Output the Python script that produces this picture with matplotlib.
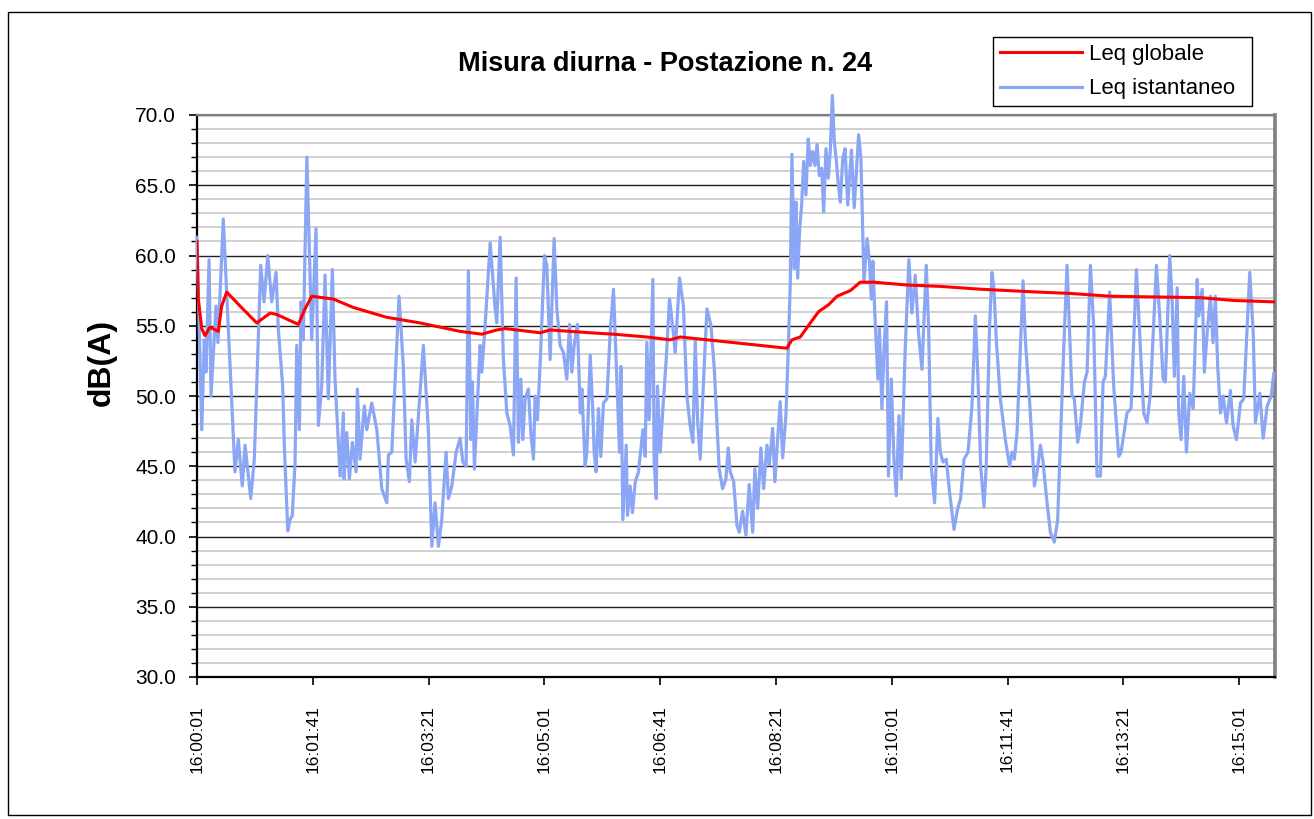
import numpy as np
import matplotlib
matplotlib.use("Agg")
import matplotlib.pyplot as plt
import matplotlib.transforms as mtransforms
from matplotlib.patches import Rectangle

plt.rcParams['font.family'] = ['Liberation Sans', 'DejaVu Sans']

# Leq istantaneo: seconds from 16:00:01 and dB(A)
t_ist = [0, 4.1, 6.3, 7.8, 10.4, 12.1, 16.4, 18.1, 22.7, 29.1, 32.8, 35.7, 39.1, 41.5, 43.5, 46.4,
         49.5, 55.0, 57.9, 61.1, 64.5, 68.3, 70.2, 74.0, 75.4, 78.4, 80.4, 82.3, 84.7, 86.1, 88.4,
         89.9, 91.8, 94.9, 99.1, 102.8, 104.8, 107.7, 110.6, 113.4, 116.9, 119.2, 123.6, 126.4,
         127.0, 129.3, 131.6, 134.2, 137.4, 138.5, 140.8, 144.5, 146.6, 150.9, 155.3, 159.6, 163.9,
         165.3, 168.2, 174.5, 178.2, 180.6, 183.4, 185.5, 188.4, 195.5, 199.8, 202.8, 205.6, 208.5,
         211.4, 215.1, 217.1, 220.1, 223.8, 227.2, 229.6, 232.4, 234.4, 236.5, 237.9, 239.6, 244.5,
         246.0, 248.8, 253.2, 257.5, 258.9, 261.8, 264.6, 267.6, 270.4, 273.3, 275.6, 277.6, 279.7,
         281.4, 283.4, 286.2, 288.3, 290.6, 292.0, 294.0, 296.4, 300.1, 302.1, 305.0, 308.4, 310.8,
         313.6, 316.5, 319.4, 321.7, 323.7, 325.7, 328.6, 331.0, 332.4, 335.2, 336.7, 339.6, 341.9,
         343.0, 344.7, 346.7, 348.8, 351.0, 354.0, 356.8, 359.7, 362.6, 364.9, 366.1, 367.8, 370.7,
         371.8, 374.1, 376.1, 378.5, 381.3, 385.1, 387.1, 388.5, 390.5, 393.7, 394.8, 396.6, 397.7,
         400.0, 402.9, 405.2, 408.1, 411.0, 413.0, 416.7, 420.1, 423.1, 425.9, 428.3, 430.3, 432.3,
         434.6, 437.5, 440.4, 443.9, 446.7, 451.0, 453.9, 456.8, 458.8, 460.5, 463.5, 466.3, 468.3,
         471.2, 474.1, 476.9, 479.9, 481.8, 484.2, 487.0, 489.4, 492.2, 494.2, 497.2, 499.1, 501.5,
         503.7, 505.8, 508.6, 510.6, 512.4, 513.8, 515.8, 517.3, 518.7, 520.5, 522.2, 523.9, 525.9,
         527.9, 529.7, 531.7, 533.7, 535.5, 537.4, 539.5, 541.2, 543.2, 545.2, 546.9, 548.7, 550.4,
         552.2, 553.9, 555.6, 557.7, 559.7, 562.0, 565.2, 567.6, 571.4, 573.4, 576.0, 578.8, 580.8,
         582.3, 583.7, 585.1, 588.0, 589.4, 591.5, 593.2, 595.5, 597.2, 599.6, 601.9, 603.9, 606.2,
         608.2, 611.6, 614.8, 617.4, 620.3, 623.1, 626.1, 629.8, 631.8, 634.1, 637.0, 639.9, 641.9,
         644.3, 647.1, 650.0, 653.8, 656.7, 659.5, 662.4, 665.9, 669.3, 672.2, 674.5, 676.8, 679.7,
         681.6, 684.5, 686.6, 688.3, 690.3, 693.8, 698.1, 701.8, 703.9, 705.9, 708.2, 713.4, 715.4,
         719.7, 723.2, 725.5, 728.4, 730.7, 733.5, 737.0, 740.4, 743.3, 748.5, 751.4, 755.7, 757.7,
         760.6, 762.9, 766.4, 768.7, 771.6, 774.4, 777.3, 780.2, 782.5, 784.5, 788.2, 791.7, 796.0,
         798.0, 800.3, 803.2, 806.7, 811.3, 814.1, 817.6, 820.5, 823.4, 828.6, 831.4, 834.4, 836.3,
         840.1, 842.1, 844.1, 846.5, 847.8, 849.9, 852.2, 854.5, 857.4, 860.3, 863.8, 865.1, 868.1,
         870.0, 872.4, 875.2, 877.5, 879.5, 881.5, 883.9, 886.2, 889.1, 892.5, 894.8, 897.7, 901.2,
         904.0, 909.2, 912.2, 914.1, 917.9, 920.8, 924.3, 927.7, 930.0]
leq_ist = [61.3, 47.6, 54.0, 51.7, 59.7, 50.0, 56.4, 53.8, 62.6, 51.2, 44.6, 46.9, 43.6, 46.5, 45.0, 42.7,
           45.5, 59.3, 56.7, 60.0, 56.7, 58.8, 54.8, 50.7, 46.5, 40.4, 41.2, 41.5, 45.3, 53.6, 47.6,
           56.7, 54.0, 67.0, 54.0, 61.9, 47.9, 50.7, 58.6, 49.8, 59.0, 51.2, 44.3, 48.8,
           44.1, 47.4, 44.1, 46.7, 44.6, 50.5, 45.5, 49.3, 47.6, 49.5, 47.6, 43.4, 42.4,
           45.8, 46.0, 57.1, 52.1, 45.5, 43.9, 48.3, 45.3, 53.6, 47.6, 39.3, 42.4, 39.3,
           41.2, 46.0, 42.7, 43.6, 46.0, 47.0, 45.3, 45.0, 58.9, 46.9, 51.0, 44.8, 53.6,
           51.7, 55.0, 60.9, 56.2, 55.2, 61.3, 52.6, 48.8, 47.9, 45.8, 58.4, 46.7, 51.2,
           46.9, 49.8, 50.5, 47.4, 45.5, 50.0, 48.3, 52.4, 60.0, 59.3, 52.6, 61.2, 56.2,
           53.6, 53.1, 51.2, 55.1, 51.7, 53.6, 55.1, 48.8, 50.5, 45.0, 46.0, 52.9, 48.8,
           46.0, 44.6, 49.1, 45.7, 49.5, 49.8, 54.5, 57.6, 51.2, 46.0, 52.1, 41.2, 46.5,
           41.5, 43.6, 41.7, 43.9, 44.6, 47.6, 45.7, 53.8, 48.3, 58.3, 45.3, 42.7, 50.7,
           46.0, 49.8, 52.6, 56.9, 54.8, 53.1, 58.4, 56.4, 50.0, 47.9, 46.7, 54.0, 48.3,
           45.5, 51.2, 56.2, 55.0, 52.0, 44.8, 43.4, 44.1, 46.3, 44.6, 43.9, 40.8, 40.3,
           41.8, 40.1, 43.7, 40.3, 44.8, 42.0, 46.3, 43.4, 46.5, 45.1, 47.7, 43.9, 47.0,
           49.6, 45.6, 48.6, 53.2, 58.1, 67.2, 59.1, 63.8, 58.4, 61.9, 63.6, 66.7, 64.3,
           68.3, 66.4, 67.4, 66.4, 67.9, 65.7, 66.2, 63.1, 67.6, 65.5, 67.4, 71.4, 68.1,
           66.7, 65.0, 63.8, 66.9, 67.6, 63.6, 67.5, 63.4, 68.6, 66.9, 58.2, 61.2, 59.5,
           56.9, 59.6, 56.4, 51.2, 54.8, 49.1, 53.1, 56.7, 44.3, 51.2, 45.5, 42.9, 48.6,
           44.1, 53.3, 59.7, 55.9, 58.6, 54.5, 51.9, 59.3, 55.0, 45.0, 42.4, 48.4, 46.0,
           45.3, 45.5, 43.1, 40.5, 41.9, 42.7, 45.5, 46.0, 49.3, 55.7, 51.2, 45.0, 42.1,
           45.0, 55.0, 58.8, 57.6, 54.0, 49.8, 46.9, 45.0, 46.0, 45.5, 47.4, 58.2, 54.0,
           48.8, 43.6, 44.6, 46.5, 45.3, 42.9, 40.3, 39.6, 41.2, 53.3, 59.3, 50.0, 49.8,
           46.7, 47.9, 51.0, 51.7, 59.3, 55.0, 44.3, 44.3, 51.0, 51.4, 57.4, 50.7, 45.7,
           46.0, 47.2, 48.8, 49.1, 59.0, 54.5, 48.8, 48.1, 50.2, 59.3, 55.7, 51.2, 51.0,
           60.0, 56.9, 51.4, 57.7, 48.8, 46.9, 51.4, 46.0, 50.2, 49.1, 58.3, 55.7, 57.6,
           51.7, 54.5, 57.1, 53.8, 57.1, 52.1, 48.8, 50.0, 48.1, 50.4, 47.9, 46.9, 49.5,
           49.8, 58.8, 54.5, 48.1, 50.2, 47.0, 49.3, 50.0, 51.6]

# Leq globale (running average)
t_glob = [0, 1.1, 4.1, 6.9, 11.2, 18.4, 21.3, 25.7, 37.2, 51.6, 63.1, 68.9, 87.5, 93.3, 99.1,
          117.8, 135.0, 163.9, 192.7, 227.2, 246.0, 258.9, 266.1, 296.4, 305.0, 339.6, 359.7,
          388.5, 408.7, 417.3, 451.9, 509.5, 513.8, 521.0, 529.7, 536.8, 545.5, 552.7, 564.2,
          572.8, 584.3, 613.2, 642.0, 676.5, 725.5, 754.3, 788.8, 866.6, 895.1, 930.0]
leq_glob = [61.0, 56.9, 54.8, 54.3, 54.9, 54.6, 56.4, 57.4, 56.4, 55.2, 55.9, 55.8, 55.1, 56.2, 57.1,
            56.9, 56.3, 55.6, 55.2, 54.6, 54.4, 54.7, 54.8, 54.5, 54.7, 54.5, 54.4,
            54.2, 54.0, 54.2, 53.9, 53.4, 54.0, 54.2, 55.2, 56.0, 56.5, 57.1, 57.5,
            58.1, 58.1, 57.9, 57.8, 57.6, 57.4, 57.3, 57.1, 57.0, 56.8, 56.7]

x_ticks = [0, 100, 200, 300, 400, 500, 600, 700, 800, 900]
x_labels = ['16:00:01', '16:01:41', '16:03:21', '16:05:01', '16:06:41',
            '16:08:21', '16:10:01', '16:11:41', '16:13:21', '16:15:01']

fig = plt.figure(figsize=(13.14, 8.19), dpi=100)
ax = fig.add_axes([197/1314, 142/819, 1078/1314, 562/819])

ax.plot(t_glob, leq_glob, color='#ff0000', lw=2.2, label='Leq globale', zorder=4)
ax.plot(t_ist, leq_ist, color='#8aa6f4', lw=2.3, label='Leq istantaneo', zorder=3, clip_on=False)

ax.set_xlim(0, 931)
ax.set_ylim(30, 70)
ax.set_yticks(np.arange(30, 71, 5))
ax.set_yticks(np.arange(30, 71, 1), minor=True)
ax.set_yticklabels([f'{v:.1f}' for v in np.arange(30, 71, 5)])
ax.set_xticks(x_ticks)
ax.set_xticklabels(x_labels, rotation=90, va='top', ha='center')
offset = mtransforms.ScaledTranslation(6/100, 0, fig.dpi_scale_trans)
for lab in ax.get_xticklabels():
    lab.set_transform(lab.get_transform() + offset)

ax.tick_params(axis='y', which='major', direction='out', length=6, width=1.2, labelsize=15, pad=9)
ax.tick_params(axis='y', which='minor', direction='out', length=4, width=1.0)
ax.tick_params(axis='x', which='major', direction='out', length=6, width=1.2, labelsize=12.5, pad=14)

ax.set_axisbelow(True)
ax.yaxis.grid(True, which='minor', color='#c8c8c8', lw=1.2)
ax.yaxis.grid(True, which='major', color='#202020', lw=1.0)

for side in ['left', 'bottom']:
    ax.spines[side].set_color('black')
    ax.spines[side].set_linewidth(1.6)
ax.spines['top'].set_color('#808080')
ax.spines['top'].set_linewidth(1.6)
ax.spines['right'].set_color('#808080')
ax.spines['right'].set_linewidth(2.6)

fig.text(665/1314, 1 - 64/819, 'Misura diurna - Postazione n. 24', ha='center', va='center',
         fontsize=19.5, fontweight='bold')
fig.text(102/1314, 1 - 362/819, 'dB(A)', ha='center', va='center', rotation=90,
         fontsize=23, fontweight='bold')

# legend box spans x 993..1252, top at y 37 (pixels)
leg = ax.legend(loc='upper left', mode='expand',
                bbox_to_anchor=(993/1314, 1 - 105/819, 259/1314, 68/819),
                bbox_transform=fig.transFigure, fontsize=16, frameon=True, fancybox=False,
                framealpha=1, edgecolor='black', borderpad=0.3, handlelength=3.7,
                handletextpad=0.3, labelspacing=0.62, borderaxespad=0)
leg.get_frame().set_linewidth(1.0)

fig.patches.append(Rectangle((8/1314, 4/819), 1303/1314, 803/819, transform=fig.transFigure,
                             fill=False, edgecolor='black', lw=1.0))

fig.savefig('out.png', dpi=100)
